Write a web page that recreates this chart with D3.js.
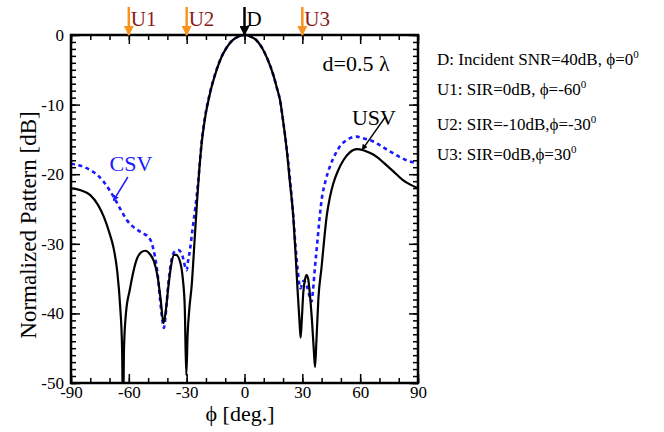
<!DOCTYPE html>
<html>
<head>
<meta charset="utf-8">
<script src="https://cdn.jsdelivr.net/npm/d3@7"></script>
<style>
  body { margin: 0; background: #fff; }
  text { font-family: "Liberation Serif", "Times New Roman", serif; }
</style>
</head>
<body>
<div id="chart"></div>
<script>
// USV (solid black) pattern
var usvPhi = [-90, -85, -80, -76, -73, -70, -68, -66, -64.5, -63.5, -63, -62.5, -61.5, -59.5, -56, -53.5, -51.5, -49, -47, -45, -43.5, -42, -41, -39.5, -38, -36.5, -35.5, -33.5, -32, -31, -30.2, -29.5, -28.5, -27.4, -26, -24.8, -23.5, -22.2, -20.5, -18, -15, -12, -9, -6, -3, 0,
              3, 6, 9, 12, 15, 17, 18.4, 20, 21.9, 23.5, 25.3, 26.5, 27.5, 28.5, 29.1, 29.7, 30.5, 31.5, 32.2, 33, 34, 35, 36, 36.6, 37.3, 38.3, 40, 41.3, 42.6, 44.3, 46.1, 48.5, 51.3, 54.5, 58.2, 62, 65.5, 68.6, 72, 77.2, 82, 86, 90];
var usvDb = [-22.0, -22.3, -23.0, -24.4, -26.1, -28.5, -30.5, -34, -39, -45, -56, -45, -40, -36.6, -32.3, -31.2, -31.0, -31.5, -32.5, -34.8, -38, -41.4, -40, -36.2, -33, -31.6, -31.6, -32.5, -35, -39, -48.9, -43, -39, -36, -30, -24.7, -19.5, -15.5, -12, -8.5, -5.5, -3.2, -1.7, -0.7, -0.2, 0,
             -0.2, -0.7, -1.8, -3.5, -5.8, -7.8, -9.3, -12.3, -16.5, -21, -26.1, -31.5, -36.5, -41, -43.5, -41, -37, -35, -34.5, -35, -37.5, -41, -45.5, -47.7, -44, -38, -33.3, -29.5, -26.1, -23.3, -21.3, -19.5, -18.0, -16.9, -16.4, -16.6, -17.0, -17.5, -18.3, -19.6, -20.8, -21.5, -22.0];

// CSV (dashed blue) pattern
var csvPhi = [-90, -85, -80, -76, -73, -70, -67, -64, -61, -58, -55, -52, -49.9, -48, -46.4, -45, -43.8, -42.5, -41.8, -41, -39.5, -38, -36.5, -34.3, -32.8, -31.7, -30.5, -30, -29.3, -28.3, -27, -25.5, -24, -22.2, -20.5, -18, -15, -12, -9, -6, -3, 0,
              3, 6, 9, 12, 15, 17, 18.4, 20, 21.9, 23.5, 25.3, 26.5, 27.5, 28.3, 29.1, 29.8, 30.7, 31.5, 32.5, 33.8, 34.8, 35.6, 36.5, 37.4, 38.7, 40, 42, 44.3, 46.8, 49.5, 53, 56, 58.2, 61, 63.8, 66.8, 70, 73.5, 77.2, 81, 85, 90];
var csvDb = [-18.5, -18.8, -19.4, -20.2, -21.1, -22.3, -23.7, -25.2, -26.6, -27.5, -28.1, -28.6, -29.0, -30, -31.9, -34.5, -38, -41.2, -42.1, -40.5, -35.7, -32.5, -31.2, -30.9, -31.3, -32.2, -33.6, -33.8, -32.5, -30.9, -28, -24.8, -21, -15.3, -11.8, -8.4, -5.4, -3.2, -1.7, -0.7, -0.2, 0,
             -0.2, -0.7, -1.8, -3.5, -5.8, -7.8, -9.3, -12.3, -16.3, -20.5, -26, -30.5, -33.5, -35.5, -36.4, -35.8, -35.3, -35.5, -36.2, -37.6, -38.3, -36.5, -33.5, -30.9, -27, -23.7, -21, -18.9, -17.3, -16.0, -15.1, -14.7, -14.6, -14.8, -15.0, -15.3, -15.8, -16.4, -17.0, -17.6, -18.1, -18.4];

// incident signals marked on the top axis
var sigNames = ["U1", "U2", "D", "U3"];
var sigPhi = [-60, -30, 0, 30];

var legendText = ["D: Incident SNR=40dB, ϕ=0", "U1: SIR=0dB, ϕ=-60", "U2: SIR=-10dB,ϕ=-30", "U3: SIR=0dB,ϕ=30"];

var xTicks = [-90, -60, -30, 0, 30, 60, 90];
var yTicks = [0, -10, -20, -30, -40, -50];

var w = 664, h = 432;
var padLeft = 71, padRight = 418, padTop = 35, padBottom = 383;

var svg = d3.select("#chart").append("svg")
    .attr("width", w)
    .attr("height", h);

var x = d3.scaleLinear().domain([-90, 90]).range([padLeft, padRight]);
var y = d3.scaleLinear().domain([-50, 0]).range([padBottom, padTop]);

svg.append("clipPath").attr("id", "clip")
    .append("rect")
    .attr("x", padLeft).attr("y", padTop)
    .attr("width", padRight - padLeft).attr("height", padBottom - padTop);

var line = d3.line()
    .x(function(d) { return x(d[0]); })
    .y(function(d) { return y(d[1]); })
    .curve(d3.curveMonotoneX);

var usv = d3.zip(usvPhi, usvDb);
var csv = d3.zip(csvPhi, csvDb);

svg.append("path")
    .datum(csv)
    .attr("clip-path", "url(#clip)")
    .attr("d", line)
    .attr("fill", "none")
    .attr("stroke", "#1a1aff")
    .attr("stroke-width", 2.6)
    .attr("stroke-dasharray", "4,3.5");

svg.append("path")
    .datum(usv)
    .attr("clip-path", "url(#clip)")
    .attr("d", line)
    .attr("fill", "none")
    .attr("stroke", "#000")
    .attr("stroke-width", 2.2);

// axes, ticks pointing inward on all four sides
function styleAxis(g) {
    g.attr("font-family", "'Liberation Serif', 'Times New Roman', serif");
    g.selectAll(".domain").remove();
    g.selectAll("line").attr("stroke", "#000").attr("stroke-width", 1.5);
    g.selectAll("text").attr("font-size", 17).attr("fill", "#000");
}
var plain = function(d) { return String(d); };

var xMinor = d3.range(-90, 91, 10);
var yMinor = d3.range(-50, 1, 1);

svg.append("g")
    .attr("transform", "translate(0," + padBottom + ")")
    .call(d3.axisBottom(x).tickValues(xMinor).tickSize(-5).tickFormat(""))
    .call(styleAxis);
svg.append("g")
    .attr("transform", "translate(0," + padBottom + ")")
    .call(d3.axisBottom(x).tickValues(xTicks).tickSize(-9).tickPadding(3).tickFormat(plain))
    .call(styleAxis);
svg.append("g")
    .attr("transform", "translate(0," + padTop + ")")
    .call(d3.axisTop(x).tickValues(xMinor).tickSize(-5).tickFormat(""))
    .call(styleAxis);
svg.append("g")
    .attr("transform", "translate(0," + padTop + ")")
    .call(d3.axisTop(x).tickValues(xTicks).tickSize(-9).tickFormat(""))
    .call(styleAxis);

svg.append("g")
    .attr("transform", "translate(" + padLeft + ",0)")
    .call(d3.axisLeft(y).tickValues(yMinor).tickSize(-5).tickFormat(""))
    .call(styleAxis);
svg.append("g")
    .attr("transform", "translate(" + padLeft + ",0)")
    .call(d3.axisLeft(y).tickValues(yTicks).tickSize(-9).tickPadding(7).tickFormat(plain))
    .call(styleAxis);
svg.append("g")
    .attr("transform", "translate(" + padRight + ",0)")
    .call(d3.axisRight(y).tickValues(yMinor).tickSize(-5).tickFormat(""))
    .call(styleAxis);
svg.append("g")
    .attr("transform", "translate(" + padRight + ",0)")
    .call(d3.axisRight(y).tickValues(yTicks).tickSize(-9).tickFormat(""))
    .call(styleAxis);

svg.append("rect")
    .attr("x", padLeft).attr("y", padTop)
    .attr("width", padRight - padLeft).attr("height", padBottom - padTop)
    .attr("fill", "none")
    .attr("stroke", "#000")
    .attr("stroke-width", 2.5);

// axis titles
svg.append("text")
    .attr("x", 240)
    .attr("y", 421)
    .attr("text-anchor", "middle")
    .attr("font-size", 22)
    .text("ϕ [deg.]");

svg.append("text")
    .attr("transform", "translate(36,225) rotate(-90)")
    .attr("text-anchor", "middle")
    .attr("font-size", 23)
    .text("Normalized Pattern [dB]");

// arrows for the incident signals
var defs = svg.append("defs");
function marker(id, color) {
    defs.append("marker")
        .attr("id", id)
        .attr("viewBox", "0 0 10 10")
        .attr("refX", 9).attr("refY", 5)
        .attr("markerWidth", 4).attr("markerHeight", 4)
        .attr("orient", "auto")
        .append("path")
        .attr("d", "M0,0 L10,5 L0,10 z")
        .attr("fill", color);
}
marker("mOrange", "#f7931e");
marker("mBlack", "#000");
marker("mBlue", "#1a1aff");

sigNames.forEach(function(name, i) {
    var isD = name === "D";
    svg.append("line")
        .attr("x1", x(sigPhi[i])).attr("x2", x(sigPhi[i]))
        .attr("y1", 7).attr("y2", padTop)
        .attr("stroke", isD ? "#000" : "#f7931e")
        .attr("stroke-width", 2.5)
        .attr("marker-end", isD ? "url(#mBlack)" : "url(#mOrange)");
    svg.append("text")
        .attr("x", x(sigPhi[i]) + 2)
        .attr("y", 26)
        .attr("font-size", 21)
        .attr("fill", isD ? "#000" : "#8b1a1a")
        .text(name);
});

// annotations
svg.append("text")
    .attr("x", x(40.5))
    .attr("y", 71)
    .attr("font-size", 22)
    .text("d=0.5 λ");

svg.append("text")
    .attr("x", x(-70))
    .attr("y", y(-19.6))
    .attr("font-size", 22)
    .attr("fill", "#1a1aff")
    .text("CSV");
svg.append("line")
    .attr("x1", x(-60.5)).attr("y1", y(-20.4))
    .attr("x2", x(-68)).attr("y2", y(-23.8))
    .attr("stroke", "#1a1aff")
    .attr("stroke-width", 1.5)
    .attr("marker-end", "url(#mBlue)");

svg.append("text")
    .attr("x", x(55.7))
    .attr("y", y(-12.9))
    .attr("font-size", 22)
    .text("USV");
svg.append("line")
    .attr("x1", x(73)).attr("y1", y(-11.8))
    .attr("x2", x(61)).attr("y2", y(-16.5))
    .attr("stroke", "#000")
    .attr("stroke-width", 1.5)
    .attr("marker-end", "url(#mBlack)");

// legend text on the right, degree-like superscript 0 at the end
var legY = [65, 95, 130, 160];
legendText.forEach(function(s, i) {
    var t = svg.append("text")
        .attr("x", 437)
        .attr("y", legY[i])
        .attr("font-size", 17);
    t.append("tspan").text(s);
    t.append("tspan")
        .attr("dy", -7)
        .attr("font-size", 11)
        .text("0");
});
</script>
</body>
</html>
